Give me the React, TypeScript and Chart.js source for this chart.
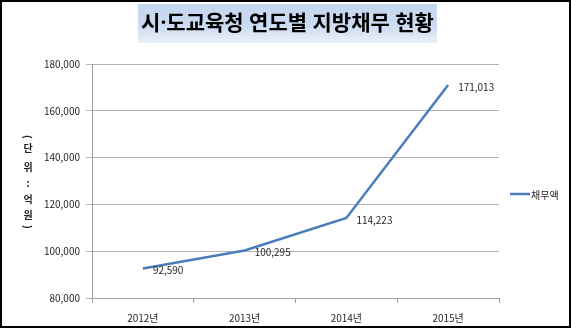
import React, { useEffect, useRef } from "react";
import { Chart, registerables } from "chart.js";

Chart.register(...registerables);

const categories = ["2012년", "2013년", "2014년", "2015년"];
const seriesName = "채무액";
const values = [92590, 100295, 114223, 171013];
const valueLabels = ["92,590", "100,295", "114,223", "171,013"];
const yTicks = [80000, 100000, 120000, 140000, 160000, 180000];
const titleText = "시·도교육청 연도별 지방채무 현황";
const yTitleChars = ["(", "단", "위", ":", "억", "원", ")"];

const FONT = '"Noto Sans CJK KR", "Noto Sans", sans-serif';
const TITLE_FONT = '"Noto Sans", "Noto Sans CJK KR", sans-serif';
const LINE_COLOR = "#4A7EBB";

const decorPlugin = {
  id: "decor",
  beforeDraw(chart: any) {
    const ctx = chart.ctx;
    ctx.save();
    ctx.fillStyle = "#ffffff";
    ctx.fillRect(0, 0, chart.width, chart.height);
    ctx.restore();
  },
  afterDraw(chart: any) {
    const ctx = chart.ctx;
    ctx.save();
    // outer frame
    ctx.strokeStyle = "#000000";
    ctx.lineWidth = 2;
    ctx.strokeRect(1, 1, chart.width - 3, chart.height - 3);

    // title box
    const bx = 138, by = 4, bw = 299, bh = 39;
    const g = ctx.createLinearGradient(0, by, 0, by + bh);
    g.addColorStop(0, "#c4d6ef");
    g.addColorStop(0.55, "#cbdbf1");
    g.addColorStop(1, "#eaf0f9");
    ctx.fillStyle = g;
    ctx.fillRect(bx, by, bw, bh);
    ctx.fillStyle = "#000000";
    let size = 20;
    ctx.font = `bold ${size}px ${TITLE_FONT}`;
    const w = ctx.measureText(titleText).width;
    size = Math.min(22, (size * 293) / w);
    ctx.font = `bold ${size.toFixed(1)}px ${TITLE_FONT}`;
    ctx.textAlign = "center";
    ctx.textBaseline = "middle";
    ctx.fillText(titleText, bx + bw / 2, by + bh / 2 + 1);

    // y axis title (stacked)
    ctx.font = `bold 10px ${FONT}`;
    ctx.fillStyle = "#222222";
    const ys = [137, 148, 167, 183, 199, 215, 227];
    yTitleChars.forEach((c, i) => {
      if (c === "(" || c === ")") {
        ctx.save();
        ctx.translate(28, ys[i]);
        ctx.rotate(Math.PI / 2);
        ctx.fillText(c, 0, 0);
        ctx.restore();
      } else {
        ctx.fillText(c, 28, ys[i]);
      }
    });

    // data labels
    const meta = chart.getDatasetMeta(0);
    ctx.font = `10px ${FONT}`;
    ctx.fillStyle = "#262626";
    ctx.textAlign = "left";
    ctx.textBaseline = "middle";
    meta.data.forEach((pt: any, i: number) => {
      ctx.fillText(valueLabels[i], pt.x + 10, pt.y + 2);
    });

    // legend
    const ly = 194;
    ctx.strokeStyle = LINE_COLOR;
    ctx.lineWidth = 2.5;
    ctx.beginPath();
    ctx.moveTo(510, ly);
    ctx.lineTo(530, ly);
    ctx.stroke();
    ctx.fillStyle = "#262626";
    ctx.font = `10px ${FONT}`;
    ctx.fillText(seriesName, 531, ly + 1);
    ctx.restore();
  },
};

export default function App() {
  const ref = useRef<HTMLCanvasElement | null>(null);
  useEffect(() => {
    document.body.style.margin = "0";
    const canvas = ref.current!;
    const chart = new Chart(canvas, {
      type: "line",
      data: {
        labels: categories,
        datasets: [
          {
            label: seriesName,
            data: values,
            borderColor: LINE_COLOR,
            backgroundColor: LINE_COLOR,
            borderWidth: 2.5,
            pointRadius: 0,
            tension: 0,
            fill: false,
          },
        ],
      },
      options: {
        responsive: false,
        animation: false,
        devicePixelRatio: 1,
        layout: { padding: { top: 64, left: 0, right: 73, bottom: 0 } },
        plugins: {
          legend: { display: false },
          title: { display: false },
          tooltip: { enabled: false },
        },
        scales: {
          x: {
            type: "category",
            offset: true,
            grid: {
              offset: true,
              drawOnChartArea: false,
              drawTicks: true,
              tickLength: 5,
              color: "#a0a0a0",
            },
            border: { color: "#a0a0a0", width: 1 },
            ticks: {
              color: "#262626",
              font: { family: FONT, size: 10 },
              padding: 9,
              maxRotation: 0,
            },
            afterFit(scale: any) {
              scale.height = 31;
            },
          },
          y: {
            min: 80000,
            max: 180000,
            afterBuildTicks(scale: any) {
              scale.ticks = yTicks.map((v) => ({ value: v }));
            },
            grid: {
              color: "#b3b3b3",
              tickLength: 6,
              drawTicks: true,
            },
            border: { color: "#a0a0a0", width: 1 },
            ticks: {
              color: "#262626",
              font: { family: FONT, size: 10 },
              padding: 6,
              callback: (v: any) => Number(v).toLocaleString("en-US"),
            },
            afterFit(scale: any) {
              scale.width = 92;
            },
          },
        },
      },
      plugins: [decorPlugin],
    } as any);
    return () => chart.destroy();
  }, []);
  return (
    <div style={{ width: 572, height: 329 }}>
      <canvas ref={ref} width={572} height={329} style={{ display: "block", width: 572, height: 329 }} />
    </div>
  );
}
